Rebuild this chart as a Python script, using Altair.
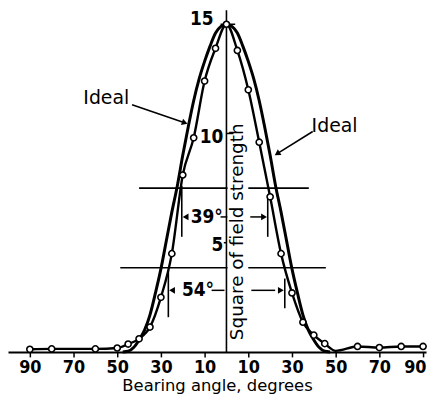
import altair as alt
import pandas as pd

# ---------------- data ----------------
# Measured pattern (circles)
meas_x = [-90, -80, -60, -50, -45, -40, -35, -30, -25, -20, -15, -10, -5, 0,
          5, 10, 15, 20, 25, 30, 35, 40, 45, 50, 60, 70, 80, 90]
meas_y = [0.12, 0.14, 0.14, 0.18, 0.36, 0.6, 1.14, 2.5, 4.5, 8.1, 9.8, 12.4, 13.9, 15.0,
          13.8, 12.0, 9.6, 7.1, 4.5, 2.7, 1.36, 0.77, 0.38, 0.05, 0.25, 0.2, 0.25, 0.25]
meas_marker = [True] * 23 + [False] + [True] * 4

# Ideal pattern (one half, mirrored)
ideal_half_x = [0, 2.5, 5, 7.5, 10, 12.5, 15, 17.5, 20, 22.5, 25, 27.5, 30,
                32.5, 35, 37.5, 40, 42.5, 45, 47.5]
ideal_half_y = [15.0, 14.9, 14.6, 14.0, 13.3, 12.5, 11.5, 10.3, 9.0, 7.6, 6.4, 5.1, 3.8,
                2.7, 1.7, 1.0, 0.55, 0.2, 0.03, 0.0]

x_ticks = [-90, -70, -50, -30, -10, 10, 30, 50, 70, 90]
x_dom = [-100, 91.36]
y_top = 15.636

NUM_FONT = "DejaVu Sans Condensed, Liberation Sans Narrow, DejaVu Sans, sans-serif"
TXT_FONT = "DejaVu Sans, sans-serif"

# y-axis labels
ylab_text = ["15", "10", "5"]
ylab_x = [-5.9, -1.4, -1.4]
ylab_y = [14.95, 9.55, 4.64]

# horizontal level lines (split around the axis title)
hl_x = [-40.0, 10.0, -48.6, 10.0]
hl_x2 = [0.5, 37.7, 0.5, 45.5]
hl_y = [7.5, 7.5, 3.85, 3.85]

# vertical width markers
vl_x = [-20.45, 18.9, -26.6, 26.7]
vl_y = [7.6, 7.0, 3.73, 3.36]
vl_y2 = [5.27, 5.27, 1.59, 2.0]

# dashes of width arrows
dash_x = [-2.7, 10.9, -6.8, 11.4]
dash_x2 = [0.4, 16.4, -0.9, 22.3]
dash_y = [6.18, 6.18, 2.82, 2.82]

# width arrowheads
wh_x = [-18.7, 17.2, -24.9, 24.9]
wh_y = [6.18, 6.18, 2.82, 2.82]
wh_shape = ["triangle-left", "triangle-right", "triangle-left", "triangle-right"]

# width labels
wl_text = ["39°", "54°"]
wl_x = [-9.0, -13.0]
wl_y = [6.18, 2.82]

# "Ideal" labels and arrows
id_text = ["Ideal", "Ideal"]
id_x = [-55.0, 49.5]
id_y = [11.6, 10.36]
ia_x = [-43.2, 39.5]
ia_y = [11.32, 10.09]
ia_x2 = [-19.5, 23.6]
ia_y2 = [10.5, 9.1]
ia_angle = [109, 237]

# ---------------- chart ----------------
xs = alt.Scale(domain=x_dom, nice=False, zero=False)
ys = alt.Scale(domain=[0, y_top], nice=False, zero=True)

x_axis = alt.Axis(values=x_ticks, labelExpr="'' + abs(datum.value)",
                  title="Bearing angle, degrees", grid=False,
                  domainColor="black", domainWidth=2, tickColor="black", tickWidth=1.5,
                  tickSize=5, labelFont=NUM_FONT, labelFontWeight="bold",
                  labelFontSize=18, labelColor="black", labelPadding=2,
                  labelFlush=10, labelFlushOffset=3, labelOverlap=False,
                  titleFont=TXT_FONT, titleFontSize=16.5, titleFontWeight="normal",
                  titleColor="black", titlePadding=1)


def X(f):
    return alt.X(f, type="quantitative", scale=xs, axis=x_axis)


def Y(f):
    return alt.Y(f, type="quantitative", scale=ys, axis=None)


meas = pd.DataFrame({"x": meas_x, "y": meas_y, "m": meas_marker})
ideal = pd.DataFrame({"x": [-v for v in ideal_half_x[::-1]] + ideal_half_x[1:],
                      "y": ideal_half_y[::-1] + ideal_half_y[1:]})

yaxis_line = alt.Chart(pd.DataFrame({"x": [0], "y": [0], "y2": [y_top]})).mark_rule(
    color="black", strokeWidth=1.6).encode(x=X("x"), y=Y("y"), y2="y2")

ytick = alt.Chart(pd.DataFrame({"x": [-2.7, 0, -1.2], "x2": [4.0, 3.2, 0], "y": [15, 10, 5]})).mark_rule(
    color="black", strokeWidth=1.5).encode(x=X("x"), x2="x2", y=Y("y"))

ideal_line = alt.Chart(ideal).mark_line(color="black", strokeWidth=3, interpolate="monotone").encode(
    x=X("x"), y=Y("y"), order="x:Q")

meas_line = alt.Chart(meas).mark_line(color="black", strokeWidth=2.4, interpolate="monotone").encode(
    x=X("x"), y=Y("y"), order="x:Q")

meas_pts = alt.Chart(meas).transform_filter("datum.m").mark_point(
    shape="circle", filled=True, fill="white", stroke="black", strokeWidth=1.6, size=38, opacity=1).encode(
    x=X("x"), y=Y("y"))

hlines = alt.Chart(pd.DataFrame({"x": hl_x, "x2": hl_x2, "y": hl_y})).mark_rule(
    color="black", strokeWidth=1.6).encode(x=X("x"), x2="x2", y=Y("y"))

vlines = alt.Chart(pd.DataFrame({"x": vl_x, "y": vl_y, "y2": vl_y2})).mark_rule(
    color="black", strokeWidth=1.6).encode(x=X("x"), y=Y("y"), y2="y2")

dashes = alt.Chart(pd.DataFrame({"x": dash_x, "x2": dash_x2, "y": dash_y})).mark_rule(
    color="black", strokeWidth=1.5).encode(x=X("x"), x2="x2", y=Y("y"))

wheads = alt.Chart(pd.DataFrame({"x": wh_x, "y": wh_y, "s": wh_shape})).mark_point(
    filled=True, color="black", size=45, opacity=1).encode(
    x=X("x"), y=Y("y"), shape=alt.Shape("s:N", scale=None, legend=None))

wlabels = alt.Chart(pd.DataFrame({"x": wl_x, "y": wl_y, "t": wl_text})).mark_text(
    font=NUM_FONT, fontWeight="bold", fontSize=19, color="black",
    align="center", baseline="middle").encode(x=X("x"), y=Y("y"), text="t:N")

ideal_arrows = alt.Chart(pd.DataFrame({"x": ia_x, "y": ia_y, "x2": ia_x2, "y2": ia_y2})).mark_rule(
    color="black", strokeWidth=1.6).encode(x=X("x"), y=Y("y"), x2="x2", y2="y2")

ideal_heads = alt.Chart(pd.DataFrame({"x": ia_x2, "y": ia_y2, "a": ia_angle})).mark_point(
    shape="triangle", filled=True, color="black", size=45, opacity=1).encode(
    x=X("x"), y=Y("y"), angle=alt.Angle("a:Q", scale=None))

ideal_labels = alt.Chart(pd.DataFrame({"x": id_x, "y": id_y, "t": id_text})).mark_text(
    font=TXT_FONT, fontSize=19, color="black", align="center", baseline="middle").encode(
    x=X("x"), y=Y("y"), text="t:N")

ylabels = alt.Chart(pd.DataFrame({"x": ylab_x, "y": ylab_y, "t": ylab_text})).mark_text(
    font=NUM_FONT, fontWeight="bold", fontSize=19, color="black",
    align="right", baseline="alphabetic").encode(x=X("x"), y=Y("y"), text="t:N")

ytitle = alt.Chart(pd.DataFrame({"x": [7.7], "y": [5.5], "t": ["Square of field strength"]})).mark_text(
    font=TXT_FONT, fontSize=18.5, color="black", angle=270,
    align="center", baseline="alphabetic").encode(x=X("x"), y=Y("y"), text="t:N")

chart = alt.layer(
    yaxis_line, ytick, hlines, vlines, dashes, wheads, wlabels,
    ideal_line, meas_line, meas_pts,
    ideal_arrows, ideal_heads, ideal_labels, ylabels, ytitle
).properties(width=421, height=344, padding=0, background="white").configure_view(stroke=None)

chart.save("out.html", embed_options={"renderer": "svg", "actions": False})
